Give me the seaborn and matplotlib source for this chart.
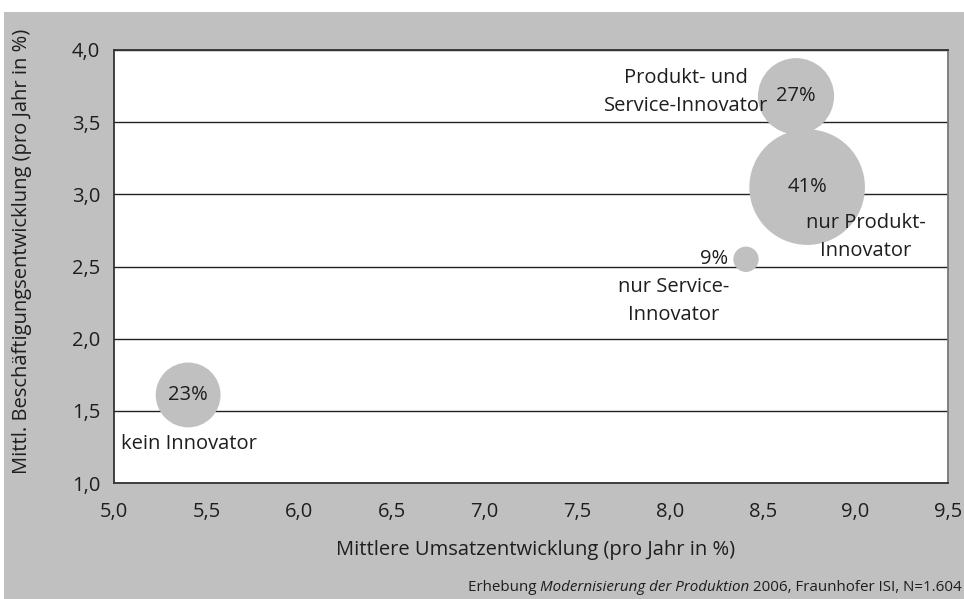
import matplotlib
matplotlib.use("Agg")
import matplotlib.pyplot as plt
import seaborn as sns
import pandas as pd
from matplotlib.patches import Rectangle

# data
groups = ["kein Innovator", "nur Service-Innovator", "Produkt- und Service-Innovator", "nur Produkt-Innovator"]
umsatz = [5.40, 8.41, 8.68, 8.74]          # Mittlere Umsatzentwicklung (% p.a.)
beschaeftigung = [1.61, 2.55, 3.68, 3.05]  # Mittl. Beschaeftigungsentwicklung (% p.a.)
anteil = [23, 9, 27, 41]                   # Anteil der Betriebe (%)

x_ticks = [5.0, 5.5, 6.0, 6.5, 7.0, 7.5, 8.0, 8.5, 9.0, 9.5]
y_ticks = [1.0, 1.5, 2.0, 2.5, 3.0, 3.5, 4.0]

df = pd.DataFrame({"Gruppe": groups, "Umsatz": umsatz,
                   "Beschaeftigung": beschaeftigung, "Anteil": anteil})

sns.set_theme(style="white")
plt.rcParams["font.family"] = ["Open Sans", "DejaVu Sans"]
txt = "#1e1e1e"
grey = "#c0c0c0"
fs = 14.5

fig = plt.figure(figsize=(9.64, 5.99), dpi=100)
fig.patch.set_facecolor("white")
fig.patches.append(Rectangle((4 / 964, 0), 1, 1 - 12 / 599, transform=fig.transFigure,
                             facecolor=grey, edgecolor="none", zorder=-10))
ax = fig.add_axes([114 / 964, 1 - 483 / 599, (948 - 114) / 964, (483 - 50) / 599])
ax.set_facecolor("white")

# bubble radius proportional to the share
sizes = {a: (2.03 * a) ** 2 for a in anteil}
sns.scatterplot(data=df, x="Umsatz", y="Beschaeftigung", size="Anteil", sizes=sizes,
                color=grey, edgecolor="none", alpha=1, legend=False, ax=ax, zorder=3)

ax.set_xlim(5.0, 9.5)
ax.set_ylim(1.0, 4.0)
ax.set_xticks(x_ticks)
ax.set_yticks(y_ticks)
ax.set_xticklabels([f"{v:.1f}".replace(".", ",") for v in x_ticks])
ax.set_yticklabels([f"{v:.1f}".replace(".", ",") for v in y_ticks])
ax.yaxis.grid(True, color="#222222", linewidth=1.0)
ax.set_axisbelow(True)
ax.tick_params(axis="both", direction="out", length=5, width=1, color="#333333",
               labelsize=fs, labelcolor=txt)
ax.tick_params(axis="x", pad=9)
ax.tick_params(axis="y", pad=5)
for side, sp in ax.spines.items():
    sp.set_visible(True)
    sp.set_color("#333333" if side != "right" else "#777777")
    sp.set_linewidth(1.3)

ax.set_xlabel("Mittlere Umsatzentwicklung (pro Jahr in %)", fontsize=fs, color=txt)
ax.set_ylabel("Mittl. Beschäftigungsentwicklung (pro Jahr in %)", fontsize=fs, color=txt)
ax.xaxis.set_label_coords(0.506, -0.132)
ax.yaxis.set_label_coords(-0.098, 0.535)

# percentages inside the bubbles
for xv, yv, a in zip(umsatz, beschaeftigung, anteil):
    if a == 9:
        ax.annotate(f"{a}%", (xv, yv), xytext=(-13, 0), textcoords="offset points",
                    ha="right", va="center", fontsize=fs, color=txt, zorder=5)
    else:
        ax.annotate(f"{a}%", (xv, yv), xytext=(0, 0), textcoords="offset points",
                    ha="center", va="center", fontsize=fs, color=txt, zorder=5)

# group names
names = ["kein Innovator", "nur Service-\nInnovator", "Produkt- und\nService-Innovator",
         "nur Produkt-\nInnovator"]
offsets = [(-48, -35, "left"), (-52, -30, "center"), (-79, 3, "center"), (42, -36, "center")]
for xv, yv, name, (dx, dy, ha) in zip(umsatz, beschaeftigung, names, offsets):
    ax.annotate(name, (xv, yv), xytext=(dx, dy), textcoords="offset points",
                ha=ha, va="center", fontsize=fs, color=txt, linespacing=1.5, zorder=5)

# source line, partly italic, right aligned
fig.canvas.draw()
r = fig.canvas.get_renderer()
parts = [("Erhebung ", "normal"), ("Modernisierung der Produktion", "italic"),
         (" 2006, Fraunhofer ISI, N=1.604", "normal")]
xr = 962 / 964
for s, st in reversed(parts):
    t = fig.text(xr, 4 / 599, s, ha="right", va="bottom", fontsize=10.9, style=st, color=txt)
    w = t.get_window_extent(renderer=r).width
    xr -= w / 964

fig.savefig("out.png", dpi=100, facecolor=fig.get_facecolor())
